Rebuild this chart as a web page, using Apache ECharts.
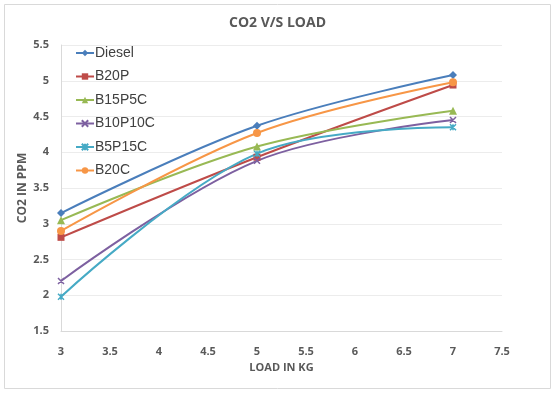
<!DOCTYPE html>
<html>
<head>
<meta charset="utf-8">
<script src="https://cdn.jsdelivr.net/npm/echarts@6/dist/echarts.min.js"></script>
<style>
  html, body { margin: 0; padding: 0; background: #fff; }
  #chart { width: 555px; height: 394px; }
</style>
</head>
<body>
<div id="chart"></div>
<script>
// data
const loads = [3, 5, 7];
const diesel = [3.15, 4.37, 5.08];
const b20p = [2.81, 3.93, 4.94];
const b15p5c = [3.05, 4.08, 4.58];
const b10p10c = [2.2, 3.88, 4.45];
const b5p15c = [1.98, 3.98, 4.35];
const b20c = [2.9, 4.27, 4.98];

const xPath = 'path://M0,0 L10,10 M10,0 L0,10 Z';
const starPath = 'path://M0,0L10,10M10,0L0,10M5,0L5,10Z';

function mk(name, vals, color, symbol, size) {
  return {
    name: name,
    type: 'line',
    smooth: 0.35,
    data: loads.map((x, i) => [x, vals[i]]),
    symbol: symbol,
    symbolSize: size,
    lineStyle: { width: 2, color: color },
    itemStyle: { color: color, borderColor: color, borderWidth: symbol.indexOf('path') === 0 ? 1.5 : 0 },
    emphasis: { disabled: true }
  };
}

const chart = echarts.init(document.getElementById('chart'));
chart.setOption({
  animation: false,
  graphic: [{
    type: 'rect',
    shape: { x: 4.5, y: 4.5, width: 546, height: 384 },
    style: { fill: 'none', stroke: '#d9d9d9', lineWidth: 1 }
  }],
  title: {
    text: 'CO2 V/S LOAD',
    left: 'center',
    top: 11,
    textStyle: { fontFamily: 'Open Sans', fontSize: 14, fontWeight: 'bold', color: '#595959' }
  },
  legend: {
    orient: 'vertical',
    left: 70,
    top: 41,
    itemWidth: 18,
    itemHeight: 8,
    itemGap: 9.5,
    textStyle: { fontFamily: 'Liberation Sans', fontSize: 14, color: '#404040', padding: [0, 0, 0, -4] },
    data: ['Diesel', 'B20P', 'B15P5C', 'B10P10C', 'B5P15C', 'B20C']
  },
  grid: { left: 61, right: 53, top: 45, bottom: 63 },
  xAxis: {
    type: 'value',
    min: 3,
    max: 7.5,
    interval: 0.5,
    name: 'LOAD IN KG',
    nameLocation: 'middle',
    nameGap: 31,
    nameTextStyle: { fontFamily: 'Open Sans', fontSize: 11, fontWeight: 'bold', color: '#595959' },
    axisLine: { show: true, lineStyle: { color: '#d9d9d9' } },
    axisTick: { show: false },
    splitLine: { show: false },
    axisLabel: { fontFamily: 'Open Sans', fontSize: 11, fontWeight: 'bold', color: '#595959', margin: 15 }
  },
  yAxis: {
    type: 'value',
    min: 1.5,
    max: 5.5,
    interval: 0.5,
    name: 'CO2 IN PPM',
    nameLocation: 'middle',
    nameGap: 32,
    nameMoveOverlap: false,
    nameTextStyle: { fontFamily: 'Open Sans', fontSize: 12, fontWeight: 'bold', color: '#595959' },
    axisLine: { show: true, lineStyle: { color: '#d9d9d9' } },
    axisTick: { show: false },
    splitLine: { show: true, lineStyle: { color: '#ececec' } },
    axisLabel: { fontFamily: 'Open Sans', fontSize: 11, fontWeight: 'bold', color: '#595959', margin: 12 }
  },
  series: [
    mk('Diesel', diesel, '#4a7ebb', 'diamond', 8),
    mk('B20P', b20p, '#be4b48', 'rect', 7),
    mk('B15P5C', b15p5c, '#98b954', 'triangle', 8),
    mk('B10P10C', b10p10c, '#7d60a0', xPath, 6),
    mk('B5P15C', b5p15c, '#46aac5', starPath, 6),
    mk('B20C', b20c, '#f79646', 'circle', 8)
  ]
});
</script>
</body>
</html>
